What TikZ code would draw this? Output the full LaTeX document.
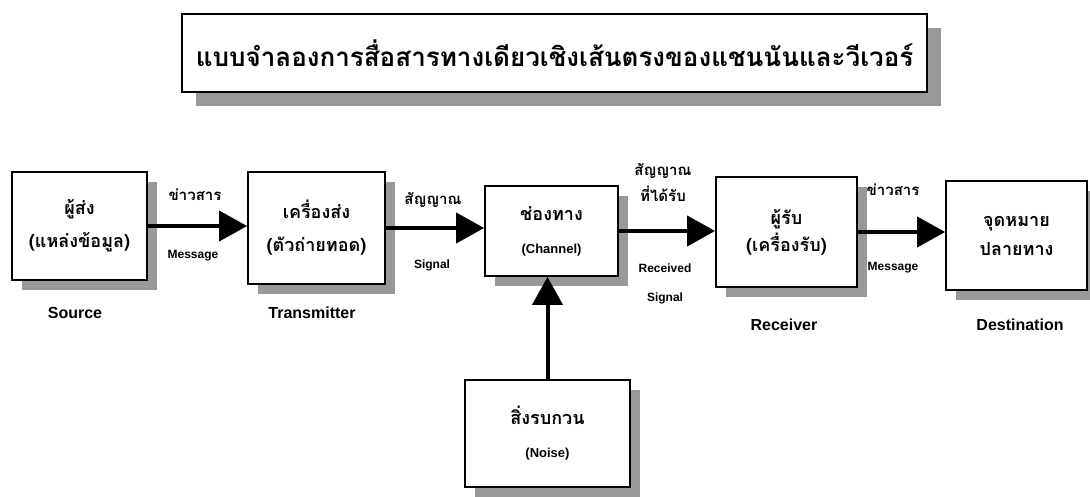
\documentclass[tikz,border=0pt]{standalone}
\usepackage{fontspec}
\newfontfamily\thaifont[Script=Thai]{Loma}
\newfontfamily\enfont{Liberation Sans}
\usetikzlibrary{arrows.meta,shadows}
\begin{document}
\begin{tikzpicture}[x=1pt,y=-1pt,
  basebox/.style={draw=black, line width=1.8pt, fill=white, align=center, inner sep=0pt,
    font=\thaifont\bfseries\fontsize{18}{33}\selectfont},
  box/.style={basebox, drop shadow={shadow xshift=10pt, shadow yshift=-10pt, fill=black!40, opacity=1}},
  titlebox/.style={basebox, drop shadow={shadow xshift=14pt, shadow yshift=-14pt, fill=black!40, opacity=1}},
  flow/.style={line width=4pt, -{Triangle[length=28pt,width=30pt]}},
  thl/.style={font=\thaifont\bfseries\fontsize{15}{26}\selectfont, inner sep=0pt, align=center},
  enl/.style={font=\enfont\bfseries\fontsize{12}{14}\selectfont, inner sep=0pt},
  eng/.style={font=\enfont\bfseries\fontsize{16}{18}\selectfont, inner sep=0pt}]
\useasboundingbox (0,0) rectangle (1090,497);
\fill[white] (0,0) rectangle (1090,497);

\node[titlebox, minimum width=745pt, minimum height=78pt,
  font=\thaifont\bfseries\fontsize{26}{30}\selectfont] (title) at (554.5,53)
  {แบบจำลองการสื่อสารทางเดียวเชิงเส้นตรงของแชนนันและวีเวอร์};

\node[box, minimum width=135pt, minimum height=108pt] (src) at (79.5,226) {ผู้ส่ง\\(แหล่งข้อมูล)};
\node[box, minimum width=137pt, minimum height=112pt] (tx) at (316.5,228) {เครื่องส่ง\\(ตัวถ่ายทอด)};
\node[box, minimum width=133pt, minimum height=90pt] (ch) at (551.5,231) {ช่องทาง\\{\enfont\bfseries\fontsize{13}{15}\selectfont (Channel)}};
\node[box, minimum width=141pt, minimum height=110pt,
  font=\thaifont\bfseries\fontsize{18}{27}\selectfont] (rx) at (786.5,232) {ผู้รับ\\(เครื่องรับ)};
\node[box, minimum width=141pt, minimum height=109pt,
  font=\thaifont\bfseries\fontsize{18}{29}\selectfont] (dst) at (1016.5,235.5) {จุดหมาย\\ปลายทาง};
\node[box, minimum width=165pt, minimum height=107pt] (noise) at (547.5,433.5) {สิ่งรบกวน\\{\enfont\bfseries\fontsize{13}{15}\selectfont (Noise)}};

\draw[flow] (src.east) -- (src.east -| tx.west);
\draw[flow] (tx.east) -- (tx.east -| ch.west);
\draw[flow] (ch.east) -- (ch.east -| rx.west);
\draw[flow] (rx.east) -- (rx.east -| dst.west);
\draw[flow] (noise.north) -- (noise.north |- ch.south);

\node[thl] (m1t) at (195,195) {ข่าวสาร};
\node[enl] (m1b) at (193,256) {Message};
\node[thl] (s1t) at (433,200) {สัญญาณ};
\node[enl] (s1b) at (432,265) {Signal};
\node[thl] (r1t) at (663,182) {สัญญาณ\\ที่ได้รับ};
\node[enl] (r1b) at (665,268) {Received};
\node[enl] (r1c) at (665,298) {Signal};
\node[thl] (m2t) at (893,190) {ข่าวสาร};
\node[enl] (m2b) at (893,268) {Message};

\node[eng] (csrc) at (75,313) {Source};
\node[eng] (ctx) at (312,313) {Transmitter};
\node[eng] (crx) at (784,325) {Receiver};
\node[eng] (cdst) at (1020,325) {Destination};
\end{tikzpicture}
\end{document}
